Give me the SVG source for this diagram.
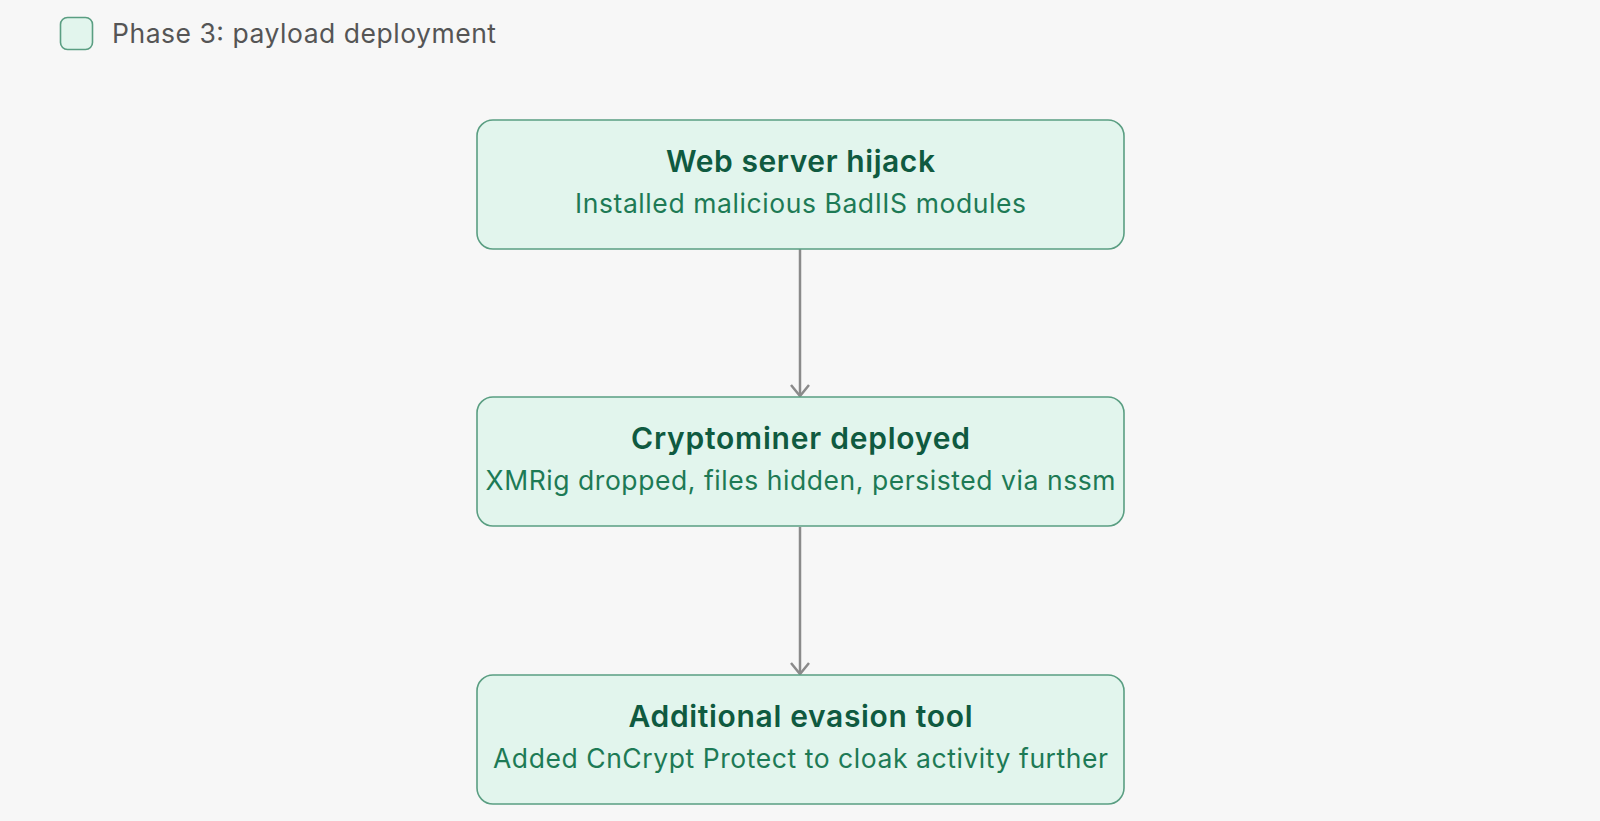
<svg xmlns="http://www.w3.org/2000/svg" width="1600" height="821" viewBox="0 0 1600 821">
<defs>
<style>
.box{fill:#e2f5ed;stroke:#5a9e82;stroke-width:1.6}
.t{font-family:Inter,"Liberation Sans",sans-serif;font-size:30px;font-weight:600;fill:#0f5a40;text-anchor:middle}
.s{font-family:Inter,"Liberation Sans",sans-serif;font-size:26.5px;fill:#1d7a55;text-anchor:middle}
.edge{stroke:#8a8a8a;stroke-width:2.5;fill:none}
</style>
<marker id="arr" viewBox="0 0 24 24" refX="22" refY="12" markerWidth="24" markerHeight="24" markerUnits="userSpaceOnUse" orient="auto">
<path d="M11 3 L22 12 L11 21" fill="none" stroke="#8a8a8a" stroke-width="2.5"/>
</marker>
</defs>
<rect width="1600" height="821" fill="#f7f7f7"/>
<g id="legend">
<rect x="60.5" y="17.5" width="32" height="32" rx="7" class="box"/>
<text x="112" y="43" textLength="384" lengthAdjust="spacing" style="font-family:Inter,'Liberation Sans',sans-serif;font-size:26.5px;fill:#555">Phase 3: payload deployment</text>
</g>
<g id="connectors">
<path class="edge" d="M800 249 V396" marker-end="url(#arr)"/>
<path class="edge" d="M800 527 V674" marker-end="url(#arr)"/>
</g>
<g id="n1">
<rect x="477" y="120" width="647" height="129" rx="16" class="box"/>
<text x="800.5" y="172" class="t" textLength="269" lengthAdjust="spacing">Web server hijack</text>
<text x="800.5" y="213" class="s" textLength="451" lengthAdjust="spacing">Installed malicious BadIIS modules</text>
</g>
<g id="n2">
<rect x="477" y="397" width="647" height="129" rx="16" class="box"/>
<text x="800.5" y="449" class="t" textLength="339" lengthAdjust="spacing">Cryptominer deployed</text>
<text x="800.5" y="490" class="s" textLength="630" lengthAdjust="spacing">XMRig dropped, files hidden, persisted via nssm</text>
</g>
<g id="n3">
<rect x="477" y="675" width="647" height="129" rx="16" class="box"/>
<text x="800.5" y="727" class="t" textLength="344" lengthAdjust="spacing">Additional evasion tool</text>
<text x="800.5" y="768" class="s" textLength="615" lengthAdjust="spacing">Added CnCrypt Protect to cloak activity further</text>
</g>
</svg>
